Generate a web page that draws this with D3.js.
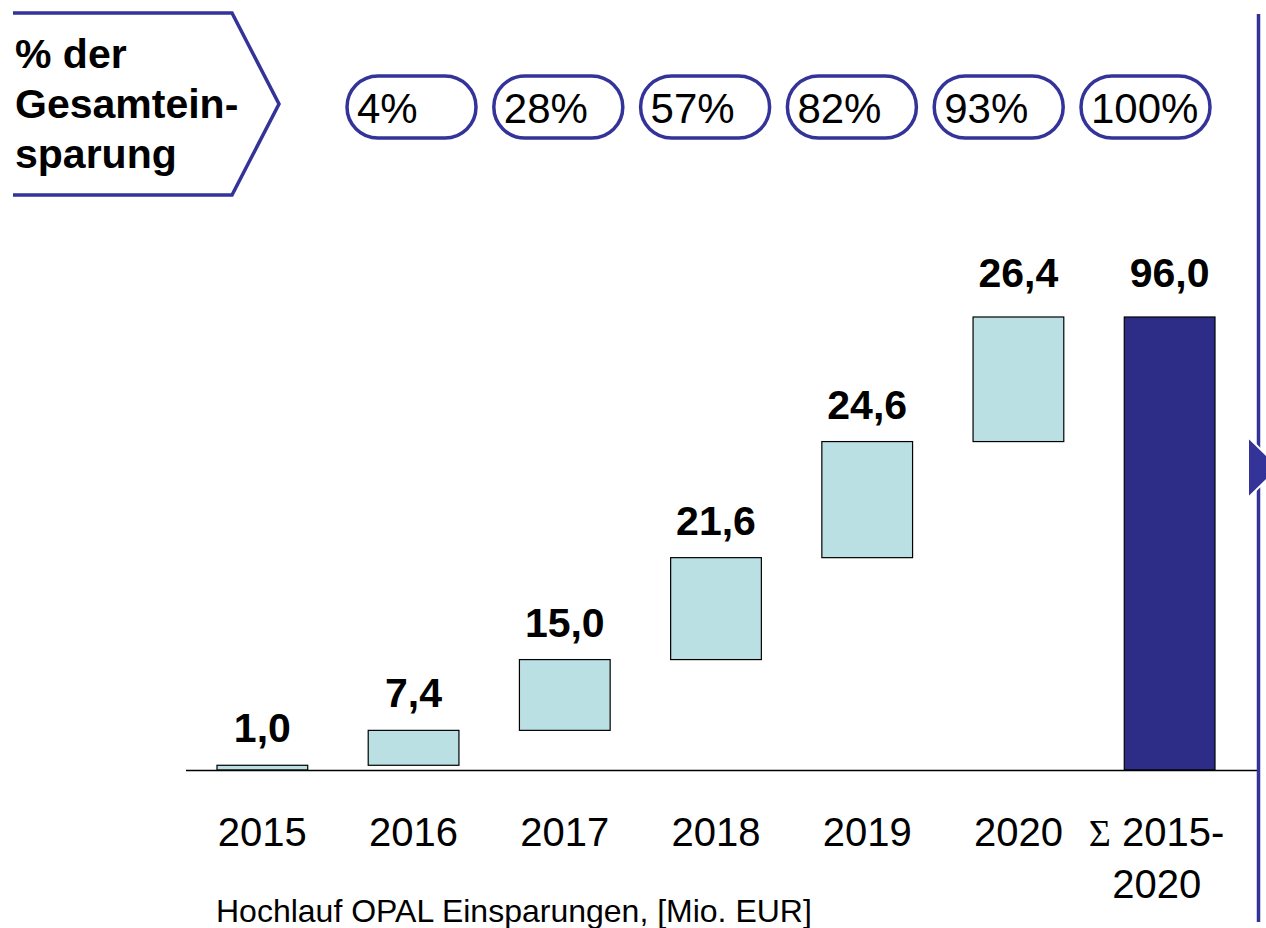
<!DOCTYPE html>
<html>
<head>
<meta charset="utf-8">
<script src="https://cdn.jsdelivr.net/npm/d3@7"></script>
<style>
  html, body { margin: 0; padding: 0; background: #fff; }
  svg { display: block; font-family: 'Liberation Sans', Arial, sans-serif; }
</style>
</head>
<body>
<svg id="chart" width="1266" height="928"></svg>
<script>
var years = ['2015', '2016', '2017', '2018', '2019', '2020'];
var savings = [1.0, 7.4, 15.0, 21.6, 24.6, 26.4];
var totalKey = 'total';
var totalLabel = ['\u03A3 2015-', '2020'];
var shares = ['4%', '28%', '57%', '82%', '93%', '100%'];
var headerLines = ['% der', 'Gesamtein-', 'sparung'];
var caption = 'Hochlauf OPAL Einsparungen, [Mio. EUR]';

function waterfallChart(id) {

  var navy = '#333399',
      barFill = '#bae0e3',
      totalFill = '#2d2d87';

  var de = d3.formatLocale({ decimal: ',', thousands: '.', grouping: [3], currency: ['', ' €'] });
  var fmt = de.format('.1f');

  // running totals for the floating bars
  var acc = 0;
  var data = years.map(function (yr, i) {
    var d = { key: yr, label: yr, start: acc, end: acc + savings[i], value: savings[i], total: false };
    acc += savings[i];
    return d;
  });
  data.push({ key: totalKey, label: totalLabel, start: 0, end: acc, value: acc, total: true });

  var svg = d3.select('#' + id);

  var x = d3.scaleBand()
      .domain(data.map(function (d) { return d.key; }))
      .range([217, 1215])
      .paddingInner(0.4)
      .paddingOuter(0);

  var y = d3.scaleLinear()
      .domain([0, 96])
      .range([770, 317]);

  // header chevron with text
  svg.append('path')
      .attr('d', 'M13,13 L232,13 L279,104 L232,195 L13,195')
      .attr('fill', 'none')
      .attr('stroke', navy)
      .attr('stroke-width', 3.5);

  svg.append('g')
      .attr('font-size', 41)
      .attr('font-weight', 'bold')
      .selectAll('text')
      .data(headerLines)
      .enter().append('text')
        .attr('x', 15)
        .attr('y', function (d, i) { return 68 + i * 50; })
        .text(function (d) { return d; });

  // share pills
  var px = d3.scalePoint()
      .domain(shares)
      .range([347, 1081]);

  var pill = svg.append('g')
    .selectAll('g')
    .data(shares)
    .enter().append('g')
      .attr('transform', function (d) { return 'translate(' + px(d) + ',76)'; });

  pill.append('rect')
      .attr('width', 129)
      .attr('height', 62)
      .attr('rx', 31)
      .attr('ry', 31)
      .attr('fill', '#fff')
      .attr('stroke', navy)
      .attr('stroke-width', 3.5);

  pill.append('text')
      .attr('x', 10)
      .attr('y', 47)
      .attr('font-size', 42)
      .text(function (d) { return d; });

  // bars
  svg.append('g')
    .selectAll('rect')
    .data(data)
    .enter().append('rect')
      .attr('x', function (d) { return x(d.key); })
      .attr('y', function (d) { return y(d.end); })
      .attr('width', x.bandwidth())
      .attr('height', function (d) { return y(d.start) - y(d.end); })
      .attr('fill', function (d) { return d.total ? totalFill : barFill; })
      .attr('stroke', '#000')
      .attr('stroke-width', 1.2);

  // baseline
  svg.append('line')
      .attr('x1', 186)
      .attr('x2', 1258)
      .attr('y1', y(0) + 0.5)
      .attr('y2', y(0) + 0.5)
      .attr('stroke', '#000')
      .attr('stroke-width', 1.5);

  // value labels
  svg.append('g')
      .attr('font-size', 41)
      .attr('font-weight', 'bold')
      .attr('text-anchor', 'middle')
    .selectAll('text')
    .data(data)
    .enter().append('text')
      .attr('x', function (d) { return x(d.key) + x.bandwidth() / 2; })
      .attr('y', function (d) { return y(d.end) - (d.end > 90 ? 30 : 23); })
      .text(function (d) { return fmt(d.value); });

  // category labels
  var cat = svg.append('g')
      .attr('font-size', 40)
      .attr('text-anchor', 'middle');

  cat.selectAll('text.year')
    .data(data.filter(function (d) { return !d.total; }))
    .enter().append('text')
      .attr('class', 'year')
      .attr('x', function (d) { return x(d.key) + x.bandwidth() / 2; })
      .attr('y', 846)
      .text(function (d) { return d.label; });

  var tl = cat.append('text')
      .attr('x', x(totalKey) + x.bandwidth() / 2 - 13)
      .attr('y', 846);

  tl.append('tspan')
      .attr('font-family', "'Liberation Serif', 'Times New Roman', serif")
      .attr('font-size', 38)
      .text(totalLabel[0].charAt(0));

  tl.append('tspan')
      .text(totalLabel[0].slice(1));

  cat.append('text')
      .attr('x', x(totalKey) + x.bandwidth() / 2 - 13)
      .attr('y', 898)
      .text(totalLabel[1]);

  // caption
  svg.append('text')
      .attr('x', 216)
      .attr('y', 922)
      .attr('font-size', 32)
      .text(caption);

  // right divider with arrow
  svg.append('line')
      .attr('x1', 1258.5)
      .attr('x2', 1258.5)
      .attr('y1', 14)
      .attr('y2', 922)
      .attr('stroke', navy)
      .attr('stroke-width', 3.5);

  svg.append('path')
      .attr('d', 'M1248,437 L1279,467.5 L1248,498 Z')
      .attr('fill', navy)
      .attr('stroke', '#fff')
      .attr('stroke-width', 2);
}

waterfallChart('chart');
</script>
</body>
</html>
